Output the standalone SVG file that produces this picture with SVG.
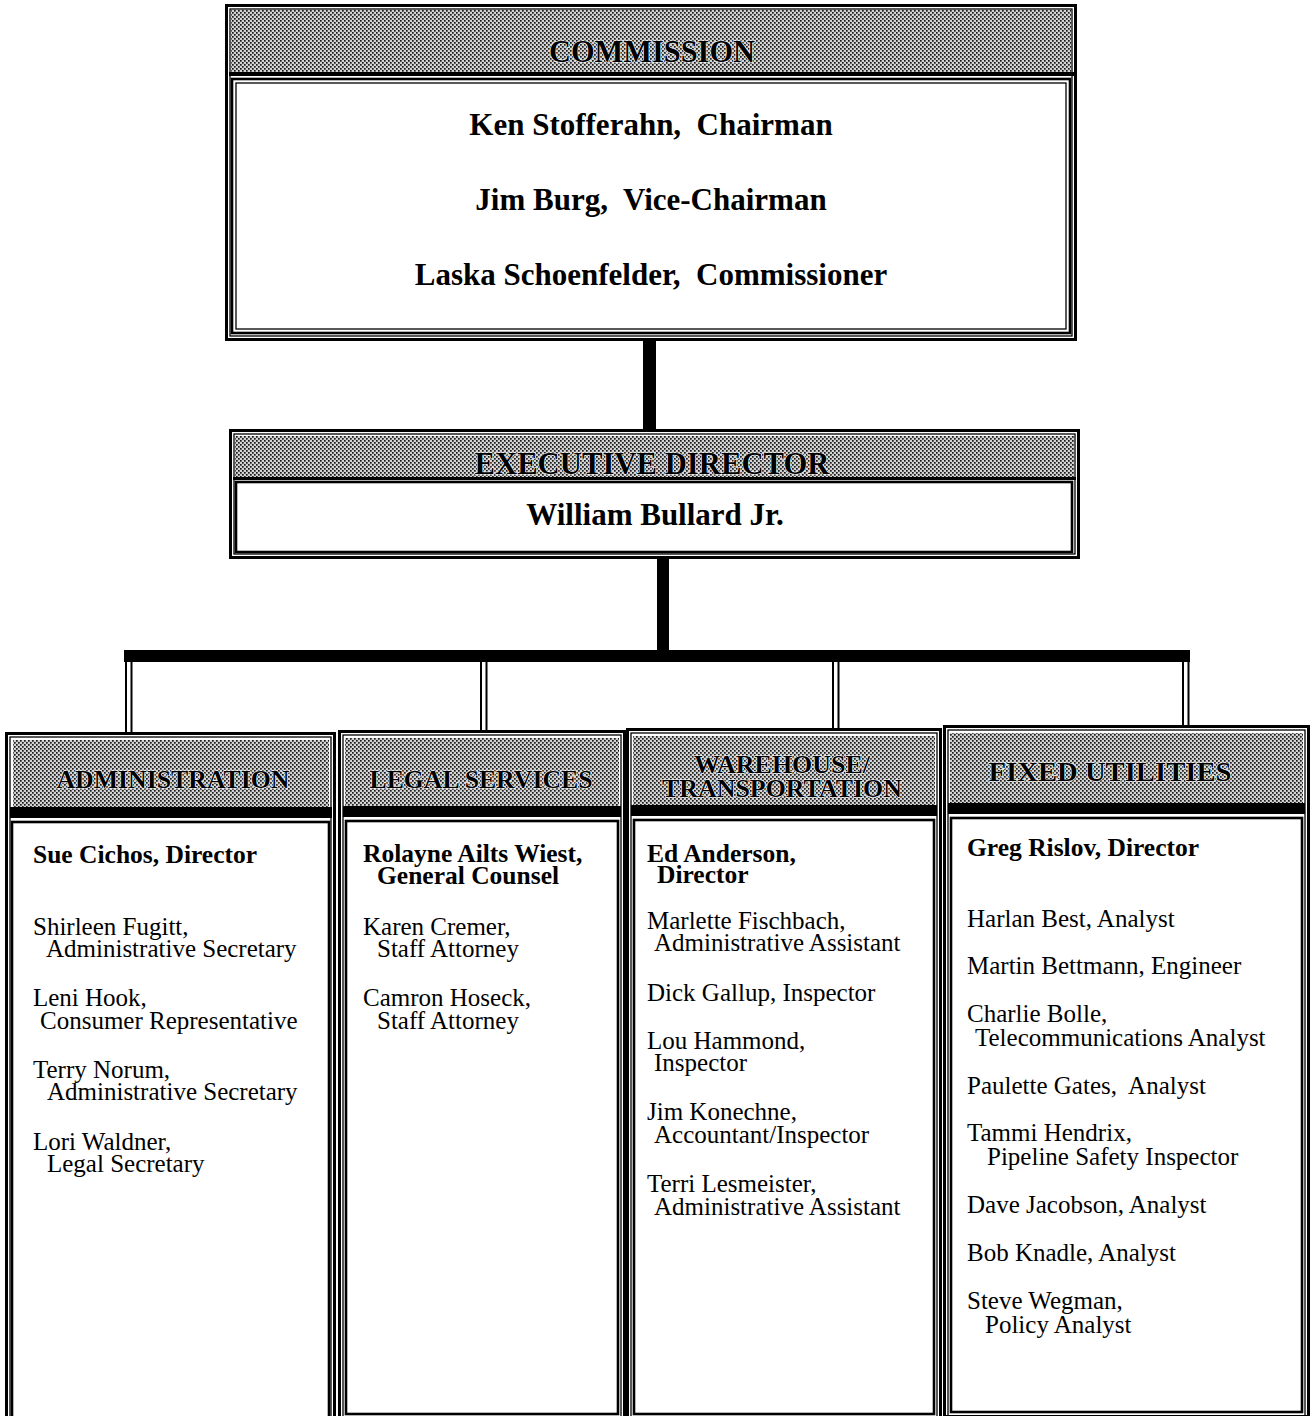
<svg xmlns="http://www.w3.org/2000/svg" width="1316" height="1416" viewBox="0 0 1316 1416">
<defs>
<pattern id="dots" width="4" height="4" patternUnits="userSpaceOnUse">
<rect width="4" height="4" fill="#d2d2d2"/>
<rect x="0" y="0" width="1.7" height="1.7" fill="#1a1a1a"/>
<rect x="2" y="2" width="1.7" height="1.7" fill="#1a1a1a"/>
</pattern>
<style>
.frame{fill:#fff;stroke:#000;stroke-width:3}
.thin{fill:none;stroke:#000;stroke-width:1.3}
.box{fill:#fff;stroke:#000;stroke-width:2.6}
.hdr{fill:url(#dots);stroke:none}
.band{fill:#000}
.conn{fill:#000;stroke:none}
.drop{fill:none;stroke:#000;stroke-width:2}
.ht{font-family:"Liberation Serif",serif;font-weight:bold;fill:#000;stroke:#fff;stroke-width:1.2;paint-order:stroke;text-anchor:middle}
.bt{font-family:"Liberation Serif",serif;font-weight:bold;fill:#000;text-anchor:middle;white-space:pre}
.nm{font-family:"Liberation Serif",serif;font-weight:bold;font-size:25.5px;fill:#000}
.st{font-family:"Liberation Serif",serif;font-size:25px;fill:#000;white-space:pre}
</style>
</defs>
<rect width="1316" height="1416" fill="#fff"/>

<g id="connectors">
<rect class="conn" x="643" y="338" width="13" height="94"/>
<rect class="conn" x="657" y="556" width="12" height="96"/>
<rect class="conn" x="124" y="650" width="1066" height="12"/>
<line class="drop" x1="126" y1="662" x2="126" y2="732"/>
<line class="drop" x1="131.5" y1="662" x2="131.5" y2="732"/>
<line class="drop" x1="481" y1="662" x2="481" y2="731"/>
<line class="drop" x1="486.5" y1="662" x2="486.5" y2="731"/>
<line class="drop" x1="833" y1="662" x2="833" y2="729"/>
<line class="drop" x1="838.5" y1="662" x2="838.5" y2="729"/>
<line class="drop" x1="1183" y1="662" x2="1183" y2="727"/>
<line class="drop" x1="1188.5" y1="662" x2="1188.5" y2="727"/>
</g>

<g id="commission">
<rect class="frame" x="226.5" y="5.5" width="849" height="334"/>
<rect class="thin" x="230" y="9" width="842" height="327"/>
<rect class="hdr" x="231" y="10" width="840" height="62"/>
<rect class="band" x="229" y="72" width="845" height="4"/>
<rect class="box" x="232" y="79" width="838" height="254"/>
<rect class="thin" x="236" y="83" width="830" height="246"/>
<text class="ht" x="652" y="62" font-size="31" textLength="206" lengthAdjust="spacingAndGlyphs">COMMISSION</text>
<text class="bt" x="651" y="135" font-size="31">Ken Stofferahn,  Chairman</text>
<text class="bt" x="651" y="210" font-size="31">Jim Burg,  Vice-Chairman</text>
<text class="bt" x="651" y="285" font-size="31">Laska Schoenfelder,  Commissioner</text>
</g>

<g id="executive-director">
<rect class="frame" x="230.5" y="430.5" width="848" height="127"/>
<rect class="thin" x="234" y="434" width="841" height="120"/>
<rect class="hdr" x="235" y="436" width="839" height="41"/>
<rect class="band" x="233" y="477" width="843" height="3"/>
<rect class="box" x="236" y="482" width="836" height="70"/>
<text class="ht" x="652" y="474" font-size="32" textLength="355" lengthAdjust="spacingAndGlyphs">EXECUTIVE DIRECTOR</text>
<text class="bt" x="655" y="525" font-size="31">William Bullard Jr.</text>
</g>

<g id="administration">
<rect class="frame" x="6.5" y="733.5" width="328" height="700"/>
<rect class="thin" x="10" y="737" width="321" height="700"/>
<rect class="hdr" x="13" y="740" width="316" height="67"/>
<rect class="band" x="10" y="807" width="322" height="11"/>
<rect class="box" x="12" y="822" width="317" height="610"/>
<text class="ht" x="173" y="788" font-size="26" textLength="233" lengthAdjust="spacingAndGlyphs">ADMINISTRATION</text>
<text class="nm" x="33" y="863">Sue Cichos, Director</text>
<text class="st" x="33" y="935">Shirleen Fugitt,<tspan x="46" dy="22">Administrative Secretary</tspan></text>
<text class="st" x="33" y="1006">Leni Hook,<tspan x="40" dy="23">Consumer Representative</tspan></text>
<text class="st" x="33" y="1078">Terry Norum,<tspan x="47" dy="22">Administrative Secretary</tspan></text>
<text class="st" x="33" y="1150">Lori Waldner,<tspan x="47" dy="22">Legal Secretary</tspan></text>
</g>

<g id="legal-services">
<rect class="frame" x="339.5" y="731.5" width="285" height="690"/>
<rect class="thin" x="343" y="735" width="278" height="690"/>
<rect class="hdr" x="345" y="738" width="274" height="68"/>
<rect class="band" x="343" y="806" width="278" height="11"/>
<rect class="box" x="346" y="821" width="272" height="593"/>
<text class="ht" x="481" y="788" font-size="26" textLength="223" lengthAdjust="spacingAndGlyphs">LEGAL SERVICES</text>
<text class="nm" x="363" y="862">Rolayne Ailts Wiest,<tspan x="377" dy="22">General Counsel</tspan></text>
<text class="st" x="363" y="935">Karen Cremer,<tspan x="377" dy="22">Staff Attorney</tspan></text>
<text class="st" x="363" y="1006">Camron Hoseck,<tspan x="377" dy="23">Staff Attorney</tspan></text>
</g>

<g id="warehouse-transportation">
<rect class="frame" x="627.5" y="729.5" width="313" height="690"/>
<rect class="thin" x="631" y="733" width="306" height="690"/>
<rect class="hdr" x="633" y="736" width="302" height="69"/>
<rect class="band" x="631" y="805" width="306" height="11"/>
<rect class="box" x="634" y="820" width="300" height="594"/>
<text class="ht" x="782" y="773" font-size="26"><tspan textLength="176" lengthAdjust="spacingAndGlyphs">WAREHOUSE/</tspan><tspan x="782" dy="24" textLength="240" lengthAdjust="spacingAndGlyphs">TRANSPORTATION</tspan></text>
<text class="nm" x="647" y="862">Ed Anderson,<tspan x="657" dy="21">Director</tspan></text>
<text class="st" x="647" y="929">Marlette Fischbach,<tspan x="654" dy="22">Administrative Assistant</tspan></text>
<text class="st" x="647" y="1001">Dick Gallup, Inspector</text>
<text class="st" x="647" y="1049">Lou Hammond,<tspan x="654" dy="22">Inspector</tspan></text>
<text class="st" x="647" y="1120">Jim Konechne,<tspan x="654" dy="23">Accountant/Inspector</tspan></text>
<text class="st" x="647" y="1192">Terri Lesmeister,<tspan x="654" dy="23">Administrative Assistant</tspan></text>
</g>

<g id="fixed-utilities">
<rect class="frame" x="944.5" y="726.5" width="364" height="690"/>
<rect class="thin" x="948" y="730" width="357" height="690"/>
<rect class="hdr" x="950" y="733" width="353" height="70"/>
<rect class="band" x="948" y="803" width="357" height="11"/>
<rect class="box" x="951" y="818" width="351" height="594"/>
<text class="ht" x="1110" y="781" font-size="27" textLength="243" lengthAdjust="spacingAndGlyphs">FIXED UTILITIES</text>
<text class="nm" x="967" y="856">Greg Rislov, Director</text>
<text class="st" x="967" y="927">Harlan Best, Analyst</text>
<text class="st" x="967" y="974">Martin Bettmann, Engineer</text>
<text class="st" x="967" y="1022">Charlie Bolle,<tspan x="975" dy="24">Telecommunications Analyst</tspan></text>
<text class="st" x="967" y="1094">Paulette Gates,  Analyst</text>
<text class="st" x="967" y="1141">Tammi Hendrix,<tspan x="987" dy="24">Pipeline Safety Inspector</tspan></text>
<text class="st" x="967" y="1213">Dave Jacobson, Analyst</text>
<text class="st" x="967" y="1261">Bob Knadle, Analyst</text>
<text class="st" x="967" y="1309">Steve Wegman,<tspan x="985" dy="24">Policy Analyst</tspan></text>
</g>
</svg>
